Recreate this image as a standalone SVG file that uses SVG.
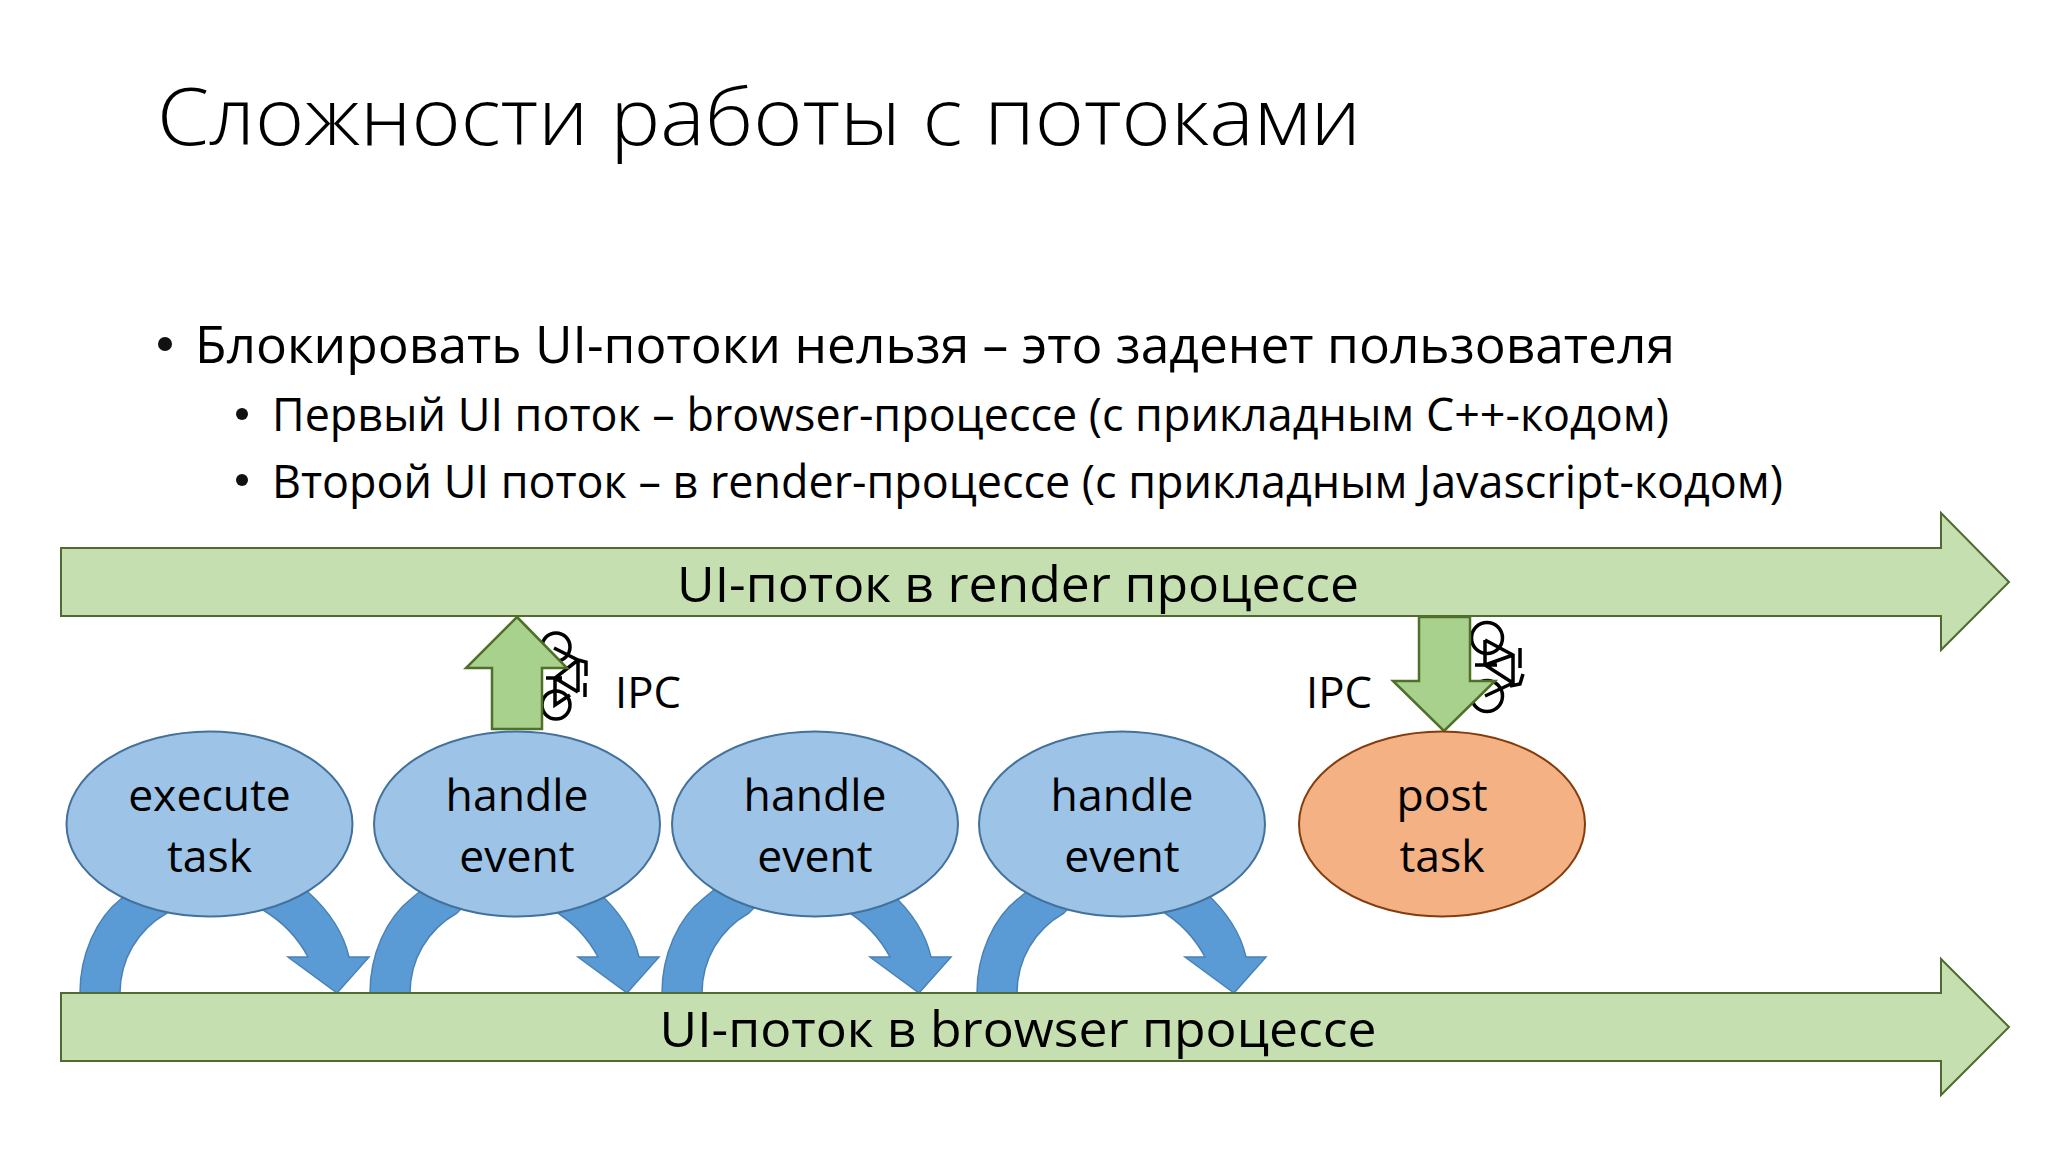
<svg xmlns="http://www.w3.org/2000/svg" xmlns:xlink="http://www.w3.org/1999/xlink" width="2048" height="1152" viewBox="0 0 2048 1152">
<style>
text{font-family:"Open Sans","Noto Sans","DejaVu Sans",sans-serif;fill:#000}
.t{font-size:80px;font-weight:300;fill:#000}
.b1{font-size:52px}
.b2{font-size:45px}
.bar{fill:#C5DFB0;stroke:#4F6B30;stroke-width:2}
.lab{font-size:50px;text-anchor:middle}
.nl{font-size:44.500px;text-anchor:middle}
.el{fill:#9DC3E6;stroke:#41719C;stroke-width:2}
.loop{fill:#5B9BD5;stroke:#4A82B5;stroke-width:1.5}
.g{fill:#A9D18E;stroke:#4F7029;stroke-width:2.5}
.bk{fill:none;stroke:#000;stroke-width:3.500}
</style>
<defs>
<path id="lp" class="loop" d="M80 993C80 955 96 918 122 898L150 875L285 870L308 892C330 912 344 935 349 957L369 957L337 993L288 957L308 957C298 938 283 922 263 910L240 890L190 890L167 913C137 930 120 960 120 993Z"/>
</defs>
<rect width="2048" height="1152" fill="#fff"/>
<text class="t" x="157" y="145" textLength="1204" lengthAdjust="spacingAndGlyphs">Сложности работы с потоками</text>
<circle cx="165" cy="344" r="7" fill="#111"/>
<text class="b1" x="195" y="363" textLength="1480" lengthAdjust="spacingAndGlyphs">Блокировать UI-потоки нельзя – это заденет пользователя</text>
<circle cx="242" cy="414" r="6" fill="#111"/>
<text class="b2" x="272" y="431" textLength="1397" lengthAdjust="spacingAndGlyphs">Первый UI поток – browser-процессе (с прикладным C++-кодом)</text>
<circle cx="242" cy="480" r="6" fill="#111"/>
<text class="b2" x="272" y="498" textLength="1511" lengthAdjust="spacingAndGlyphs">Второй UI поток – в render-процессе (с прикладным Javascript-кодом)</text>

<g id="connectors">
<use href="#lp"/>
<use href="#lp" x="290"/>
<use href="#lp" x="582"/>
<use href="#lp" x="897"/>
</g>

<g id="bar-render">
<path class="bar" d="M61 548H1941V513L2009 582L1941 650V616H61Z"/>
<text class="lab" x="1018" y="602" textLength="682" lengthAdjust="spacingAndGlyphs">UI-поток в render процессе</text>
</g>
<g id="bar-browser">
<path class="bar" d="M61 993H1941V959L2009 1027L1941 1095V1061H61Z"/>
<text class="lab" x="1018" y="1047" textLength="717" lengthAdjust="spacingAndGlyphs">UI-поток в browser процессе</text>
</g>

<g id="bike-1" class="bk">
<circle cx="556" cy="647" r="14"/><circle cx="556" cy="705" r="14"/>
<path d="M554 648L578 660L586 662V676M578 660L555 678L578 692M578 660V692M555 678V705L570 695M546 678H562M585 683V697"/>
</g>
<g id="bike-2" class="bk">
<circle cx="1487" cy="638" r="15.500"/><circle cx="1487" cy="696" r="15.500"/>
<path d="M1485 640L1513 655V683L1485 665L1513 655M1485 640V665M1520 648V668M1523 674L1520 684L1510 686M1475 665H1497M1485 696L1513 683"/>
</g>

<g id="arrow-up"><path class="g" d="M517 617L567 668H542V729H492V668H466Z"/></g>
<g id="arrow-down"><path class="g" d="M1419 617H1470V681H1495L1444 731L1393 681H1419Z"/></g>
<g id="ipc-labels">
<text class="nl" x="648" y="708" textLength="66" lengthAdjust="spacingAndGlyphs">IPC</text>
<text class="nl" x="1339" y="708" textLength="66" lengthAdjust="spacingAndGlyphs">IPC</text>
</g>

<g id="node-execute"><ellipse class="el" cx="209.500" cy="824" rx="143" ry="92.500"/><text class="nl" x="209.500" y="811">execute</text><text class="nl" x="209.500" y="872">task</text></g>
<g id="node-handle-1"><ellipse class="el" cx="517" cy="824" rx="143" ry="92.500"/><text class="nl" x="517" y="811">handle</text><text class="nl" x="517" y="872">event</text></g>
<g id="node-handle-2"><ellipse class="el" cx="815" cy="824" rx="143" ry="92.500"/><text class="nl" x="815" y="811">handle</text><text class="nl" x="815" y="872">event</text></g>
<g id="node-handle-3"><ellipse class="el" cx="1122" cy="824" rx="143" ry="92.500"/><text class="nl" x="1122" y="811">handle</text><text class="nl" x="1122" y="872">event</text></g>
<g id="node-post"><ellipse cx="1442" cy="824" rx="143" ry="92.500" fill="#F4B183" stroke="#843C0C" stroke-width="2"/><text class="nl" x="1442" y="811">post</text><text class="nl" x="1442" y="872">task</text></g>
</svg>
